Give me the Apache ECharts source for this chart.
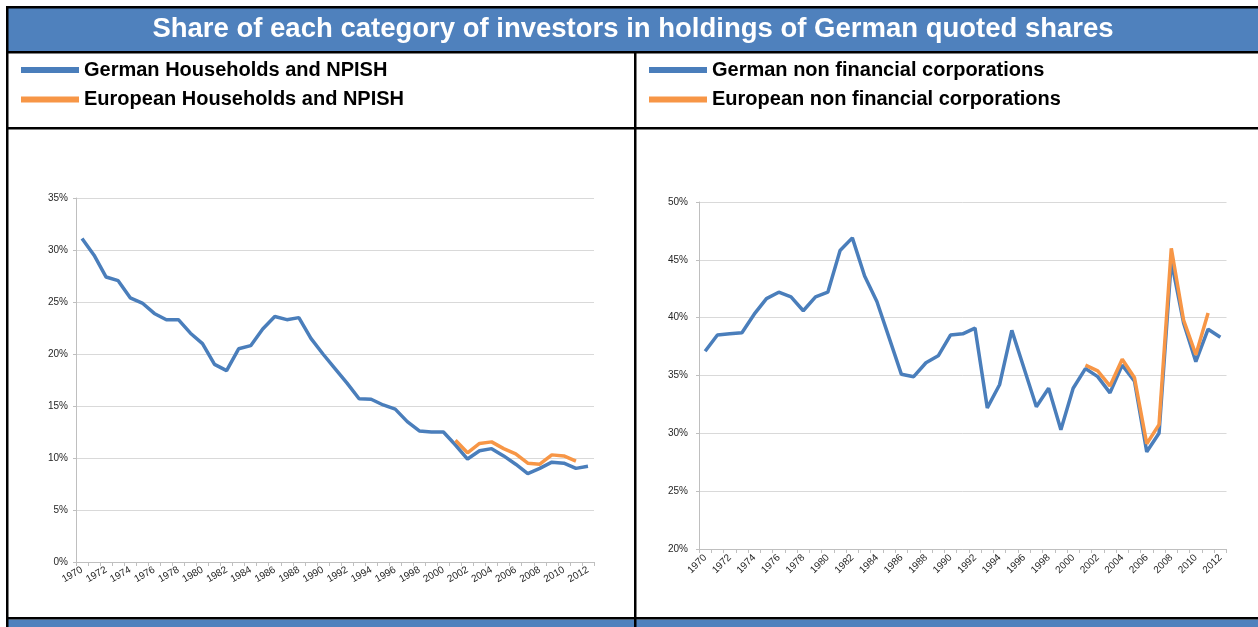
<!DOCTYPE html>
<html>
<head>
<meta charset="utf-8">
<script src="https://cdn.jsdelivr.net/npm/echarts@6/dist/echarts.min.js"></script>
<style>
  html, body {
    margin: 0;
    padding: 0;
    background: #ffffff;
  }
  #chart {
    width: 1258px;
    height: 627px;
  }
</style>
</head>
<body>
<div id="chart"></div>
<script>
const years = ['1970', '1971', '1972', '1973', '1974', '1975', '1976', '1977', '1978', '1979',
  '1980', '1981', '1982', '1983', '1984', '1985', '1986', '1987', '1988', '1989',
  '1990', '1991', '1992', '1993', '1994', '1995', '1996', '1997', '1998', '1999',
  '2000', '2001', '2002', '2003', '2004', '2005', '2006', '2007', '2008', '2009',
  '2010', '2011', '2012']

// shares in %, 1970..2012
const germanHouseholds = [31.1, 29.5, 27.4, 27.05, 25.4, 24.9, 23.9, 23.3, 23.3, 22.0,
  21.0, 19.0, 18.4, 20.5, 20.8, 22.4, 23.6, 23.3, 23.5, 21.5,
  20.0, 18.6, 17.2, 15.7, 15.65, 15.1, 14.7, 13.5, 12.6, 12.5,
  12.5, 11.25, 9.9, 10.7, 10.9, 10.2, 9.4, 8.5, 9.0, 9.6,
  9.5, 9.0, 9.2]
// european series only 2001..2011
const europeanHouseholds2001 = [11.7, 10.5, 11.4, 11.55, 10.9, 10.4, 9.5, 9.4, 10.3, 10.2, 9.7]

const germanCorporations = [37.1, 38.5, 38.6, 38.7, 40.3, 41.65, 42.2, 41.8, 40.6, 41.8,
  42.2, 45.8, 46.9, 43.6, 41.4, 38.25, 35.1, 34.9, 36.1, 36.7,
  38.5, 38.6, 39.1, 32.2, 34.2, 38.9, 35.6, 32.3, 33.9, 30.3,
  33.9, 35.6, 34.9, 33.5, 35.9, 34.5, 28.4, 30.0, 44.9, 39.55,
  36.2, 39.0, 38.3]
const europeanCorporations2001 = [35.9, 35.4, 34.1, 36.4, 34.8, 29.1, 30.75, 46.0, 39.8, 36.8, 40.4]

const leftTicks = {min: 0, max: 35, interval: 5}
const rightTicks = {min: 20, max: 50, interval: 5}

const titleText = 'Share of each category of investors in holdings of German quoted shares'

const BLUE = '#4A7EBB'
const ORANGE = '#F79646'
const HEADER = '#4F81BD'

// put a 2001.. series on the full year axis
const fromYear = (startYear, values) => {
  const out = years.map(() => null)
  const start = years.indexOf(startYear)
  values.forEach((v, i) => {
    out[start + i] = v
  })
  return out
}

const xAxisFor = (gridIndex, rotate) => ({
  type: 'category',
  gridIndex: gridIndex,
  data: years,
  boundaryGap: true,
  axisLine: {lineStyle: {color: '#BFBFBF', width: 1}},
  axisTick: {show: true, interval: 0, length: 4, lineStyle: {color: '#BFBFBF'}},
  axisLabel: {
    interval: 1,
    rotate: rotate,
    margin: 7,
    fontSize: 10,
    fontFamily: 'Liberation Sans',
    color: '#262626'
  },
  splitLine: {show: false}
})

const yAxisFor = (gridIndex, ticks, margin) => ({
  type: 'value',
  gridIndex: gridIndex,
  min: ticks.min,
  max: ticks.max,
  interval: ticks.interval,
  axisLine: {show: true, lineStyle: {color: '#BFBFBF', width: 1}},
  axisTick: {show: true, length: 3, lineStyle: {color: '#BFBFBF'}},
  axisLabel: {
    formatter: '{value}%',
    margin: margin,
    fontSize: 10,
    fontFamily: 'Liberation Sans',
    color: '#262626'
  },
  splitLine: {lineStyle: {color: '#D9D9D9', width: 1}}
})

const lineSeries = (name, data, color, index) => ({
  name: name,
  type: 'line',
  xAxisIndex: index,
  yAxisIndex: index,
  data: data,
  showSymbol: false,
  symbol: 'none',
  connectNulls: false,
  lineStyle: {width: 3.5, color: color},
  itemStyle: {color: color},
  emphasis: {disabled: true},
  animation: false
})

const legendFor = (left, names) => ({
  left: left,
  top: 59,
  padding: 0,
  orient: 'vertical',
  icon: 'rect',
  itemWidth: 58,
  itemHeight: 6,
  itemGap: 7.5,
  selectedMode: false,
  data: names,
  textStyle: {
    fontSize: 20,
    fontWeight: 'bold',
    fontFamily: 'Liberation Sans',
    color: '#000000',
    lineHeight: 22
  }
})

const frame = [
  // header bar
  {type: 'rect', shape: {x: 8, y: 8, width: 1250, height: 43}, style: {fill: HEADER}, silent: true},
  {type: 'rect', shape: {x: 8, y: 619.5, width: 1250, height: 8}, style: {fill: HEADER}, silent: true},
  // borders
  {type: 'rect', shape: {x: 6, y: 6, width: 1252, height: 2.5}, style: {fill: '#000'}, silent: true},
  {type: 'rect', shape: {x: 6, y: 6, width: 2.5, height: 621}, style: {fill: '#000'}, silent: true},
  {type: 'rect', shape: {x: 6, y: 51, width: 1252, height: 2.5}, style: {fill: '#000'}, silent: true},
  {type: 'rect', shape: {x: 6, y: 127, width: 1252, height: 2.5}, style: {fill: '#000'}, silent: true},
  {type: 'rect', shape: {x: 6, y: 617, width: 1252, height: 2.5}, style: {fill: '#000'}, silent: true},
  {type: 'rect', shape: {x: 634, y: 51, width: 2.5, height: 576}, style: {fill: '#000'}, silent: true},
  {
    type: 'text',
    x: 633,
    y: 29,
    silent: true,
    style: {
      text: titleText,
      fill: '#FFFFFF',
      font: 'bold 27.5px "Liberation Sans"',
      align: 'center',
      verticalAlign: 'middle'
    }
  }
]

const chart = echarts.init(document.getElementById('chart'), null, {renderer: 'canvas'})

chart.setOption({
  animation: false,
  backgroundColor: '#FFFFFF',
  graphic: frame,
  legend: [
    legendFor(21, ['German Households and NPISH', 'European Households and NPISH']),
    legendFor(649, ['German non financial corporations', 'European non financial corporations'])
  ],
  grid: [
    {left: 76, top: 198, width: 518, height: 364, containLabel: false},
    {left: 699, top: 202, width: 527.5, height: 347, containLabel: false}
  ],
  xAxis: [xAxisFor(0, 30), xAxisFor(1, 45)],
  yAxis: [yAxisFor(0, leftTicks, 8), yAxisFor(1, rightTicks, 11)],
  series: [
    lineSeries('German Households and NPISH', germanHouseholds, BLUE, 0),
    lineSeries('European Households and NPISH', fromYear('2001', europeanHouseholds2001), ORANGE, 0),
    lineSeries('German non financial corporations', germanCorporations, BLUE, 1),
    lineSeries('European non financial corporations', fromYear('2001', europeanCorporations2001), ORANGE, 1)
  ]
})
</script>
</body>
</html>
